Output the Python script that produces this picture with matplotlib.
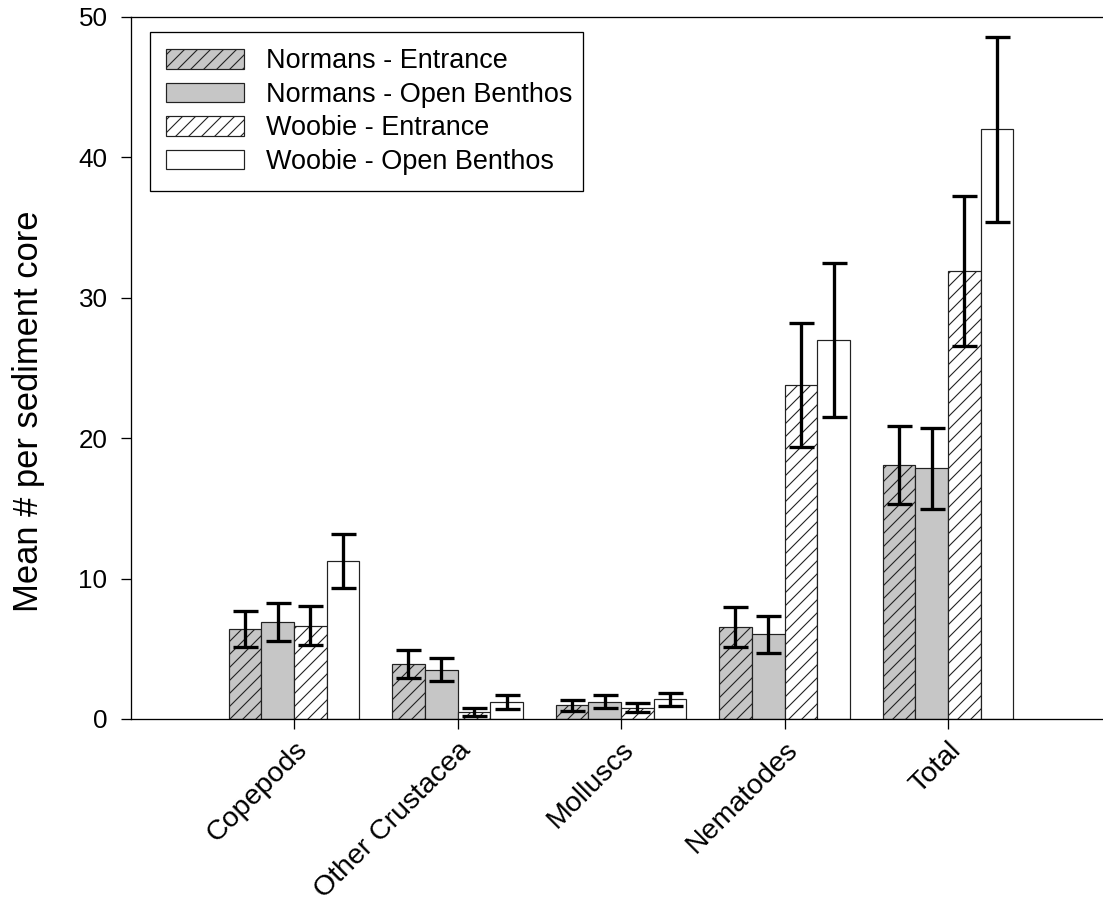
import matplotlib
matplotlib.use("Agg")
import matplotlib.pyplot as plt
import numpy as np

categories = ['Copepods', 'Other Crustacea', 'Molluscs', 'Nematodes', 'Total']
series_names = ['Normans - Entrance', 'Normans - Open Benthos',
                'Woobie - Entrance', 'Woobie - Open Benthos']
normans_entrance = [6.4, 3.9, 0.97, 6.55, 18.1]
normans_entrance_err = [1.3, 1.0, 0.4, 1.4, 2.8]
normans_open = [6.9, 3.5, 1.23, 6.03, 17.85]
normans_open_err = [1.35, 0.82, 0.48, 1.3, 2.86]
woobie_entrance = [6.65, 0.52, 0.81, 23.8, 31.9]
woobie_entrance_err = [1.4, 0.28, 0.32, 4.4, 5.35]
woobie_open = [11.25, 1.2, 1.4, 27.0, 42.0]
woobie_open_err = [1.9, 0.5, 0.47, 5.5, 6.6]
y_ticks = [0, 10, 20, 30, 40, 50]

DPI = 78
def pt(px):
    return px * 72.0 / DPI

plt.rcParams['font.family'] = ['Liberation Sans', 'DejaVu Sans']
plt.rcParams['hatch.linewidth'] = pt(1.1)

fig = plt.figure(figsize=(1103 / DPI, 901 / DPI), dpi=DPI)
W, H = 1103, 901
left_px, right_px, top_px, bot_px = 130.5, 1111.5, 17, 719
ax = fig.add_axes([left_px / W, 1 - bot_px / H, (right_px - left_px) / W, (bot_px - top_px) / H])

x = np.arange(len(categories))
width = 0.2
gray = '#c6c6c6'
styles = [
    dict(facecolor=gray, hatch='//'),
    dict(facecolor=gray, hatch=None),
    dict(facecolor='white', hatch='//'),
    dict(facecolor='white', hatch=None),
]
vals = [normans_entrance, normans_open, woobie_entrance, woobie_open]
errs = [normans_entrance_err, normans_open_err, woobie_entrance_err, woobie_open_err]
offsets = [-1.5, -0.5, 0.5, 1.5]

handles = []
for name, v, e, st, off in zip(series_names, vals, errs, styles, offsets):
    b = ax.bar(x + off * width, v, width, facecolor=st['facecolor'], hatch=st['hatch'],
               edgecolor='#222222', linewidth=pt(1.2), label=name, zorder=2)
    handles.append(b)
    ax.errorbar(x + off * width, v, yerr=e, fmt='none', ecolor='black',
                elinewidth=pt(3.3), capsize=pt(12.5), capthick=pt(3.3), zorder=3)

ax.set_xlim(-1, 5)
ax.set_ylim(0, 50)
ax.set_yticks(y_ticks)
ax.set_xticks(x)
ax.set_xticklabels(categories, rotation=45, ha='right', va='top',
                   rotation_mode='anchor', fontsize=pt(28.5))
ax.tick_params(axis='y', direction='out', length=pt(10), width=pt(1.3),
               pad=pt(13), labelsize=pt(26))
ax.tick_params(axis='x', direction='out', length=pt(10), width=pt(1.3), pad=pt(8))
for s in ['left', 'bottom', 'top']:
    ax.spines[s].set_linewidth(pt(1.3))
ax.spines['right'].set_visible(False)

ax.set_ylabel('Mean # per sediment core', fontsize=pt(34.5))
ax.yaxis.set_label_coords((45 - left_px) / (right_px - left_px), (bot_px - 411) / (bot_px - top_px))

leg_x0 = (150 - left_px) / (right_px - left_px)
leg_y1 = (bot_px - 32) / (bot_px - top_px)
leg_w = (583 - 150) / (right_px - left_px)
leg = ax.legend(handles=handles, loc='upper left',
                bbox_to_anchor=(leg_x0, 0.0, leg_w, leg_y1), mode='expand',
                borderaxespad=0, fontsize=pt(27), fancybox=False, framealpha=1,
                edgecolor='black', handlelength=2.9, handleheight=0.74,
                handletextpad=0.78, labelspacing=0.28, borderpad=0.6)
leg.get_frame().set_linewidth(pt(1.3))

fig.savefig('out.png', dpi=DPI)
